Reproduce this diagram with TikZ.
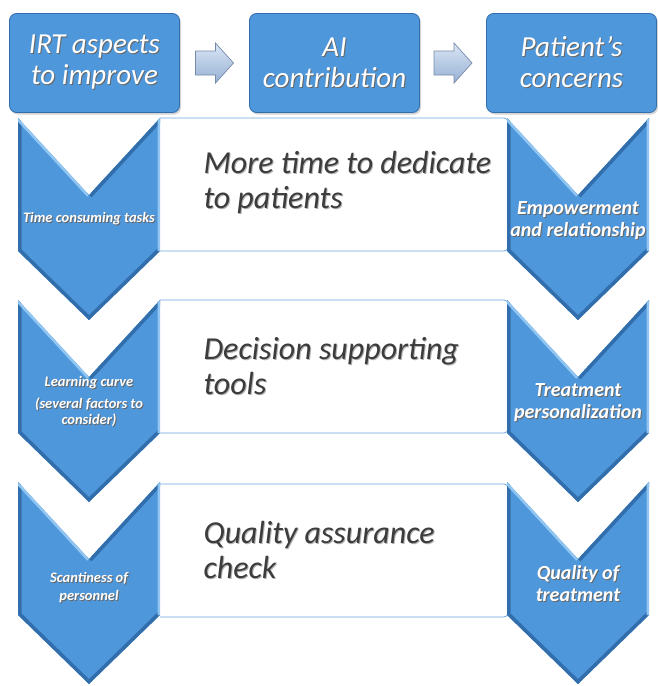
\documentclass[tikz,border=0pt]{standalone}
\usepackage{fontspec}
\setmainfont{Carlito}
\usetikzlibrary{calc,positioning,shadows}

\definecolor{boxblue}{RGB}{79,151,219}
\definecolor{edgeblue}{RGB}{50,110,172}
\definecolor{litblue}{RGB}{146,198,242}
\definecolor{rimblue}{RGB}{110,165,220}
\definecolor{txtgray}{RGB}{60,60,60}
\definecolor{arrtop}{RGB}{218,230,245}
\definecolor{arrbot}{RGB}{150,176,212}
\definecolor{arrline}{RGB}{118,138,168}

% text with a small drop shadow behind it
\newcommand\shd[2][black!60]{\makebox[0pt][l]{\kern1pt\raisebox{-1pt}{\textcolor{#1}{#2}}}#2}

\tikzset{
  headbox/.style={rounded corners=7pt, fill=boxblue, draw=edgeblue, line width=0.8pt,
    minimum width=170pt, minimum height=99pt, align=center, text=white,
    font=\fontsize{29}{31}\selectfont\itshape,
    drop shadow={opacity=0.35, shadow xshift=1.5pt, shadow yshift=-2pt}},
  blockarr/.style={draw=arrline, line width=0.7pt, top color=arrtop, bottom color=arrbot},
  midbox/.style={draw=rimblue, line width=0.8pt, fill=white, rounded corners=4pt},
  midtext/.style={anchor=west, align=left, text=txtgray,
    font=\fontsize{32}{35}\selectfont\itshape},
  lefttext/.style={align=center, text=white,
    font=\fontsize{14.5}{16}\selectfont\bfseries\itshape},
  righttext/.style={align=center, text=white,
    font=\fontsize{20}{21.5}\selectfont\bfseries\itshape},
}

\begin{document}
\begin{tikzpicture}[x=1pt,y=-1pt]
  \useasboundingbox (0,0) rectangle (657,686);

  % headers
  \node[headbox] (irt) at (94.5,63) {\shd{IRT aspects}\\\shd{to improve}};
  \node[headbox] (ai) at (334.5,63) {\shd{AI}\\\shd{contribution}};
  \node[headbox] (concern) at (571.5,63) {\shd{Patient’s}\\\shd{concerns}};

  \draw[blockarr] ($(irt.east)!0.5!(ai.west)$)
    +(-19,-12) -- +(1,-12) -- +(1,-20) -- +(19,0) -- +(1,20) -- +(1,12) -- +(-19,12) -- cycle;
  \draw[blockarr] ($(ai.east)!0.5!(concern.west)$)
    +(-19,-12) -- +(1,-12) -- +(1,-20) -- +(19,0) -- +(1,20) -- +(1,12) -- +(-19,12) -- cycle;

  % white panels between the chevrons
  \foreach \y in {118,300,484}
    \draw[midbox] (160,\y) -- (508,\y) -- (508,\y+133) -- (160,\y+133);

  % chevrons, lit from the top
  \foreach \cx in {89,578}
    \foreach \y in {118,300,482} {
      \begin{scope}
        \clip (\cx-71,\y) -- (\cx,\y+77) -- (\cx+71,\y) -- (\cx+71,\y+133)
          -- (\cx,\y+202) -- (\cx-71,\y+133) -- cycle;
        \fill[boxblue] (\cx-71,\y) rectangle (\cx+71,\y+202);
        \draw[edgeblue, line width=7pt] (\cx-71,\y+133) -- (\cx-71,\y)
          (\cx,\y+77) -- (\cx+71,\y)
          (\cx+71,\y+133) -- (\cx,\y+202) -- (\cx-71,\y+133);
        \draw[litblue, line width=5pt] (\cx-71,\y) -- (\cx,\y+77)
          (\cx+71,\y) -- (\cx+71,\y+133);
      \end{scope}
    }

  % left column
  \node[lefttext] (tasks) at (89,219) {\shd{Time consuming tasks}};
  \node[lefttext] (curve) at (89,402) {\shd{Learning curve}\\[6pt]\shd{(several factors to}\\\shd{consider)}};
  \node[lefttext] (staff) at (89,588) {\shd{Scantiness of}\\[2pt]\shd{personnel}};

  % middle column
  \node[midtext] (time) at (200,183) {\shd[black!30]{More time to dedicate}\\\shd[black!30]{to patients}};
  \node[midtext] (decision) at (200,367) {\shd[black!30]{Decision supporting}\\\shd[black!30]{tools}};
  \node[midtext] (qa) at (200,550) {\shd[black!30]{Quality assurance}\\\shd[black!30]{check}};

  % right column
  \node[righttext] (empower) at (578,221) {\shd{Empowerment}\\\shd{and relationship}};
  \node[righttext] (personal) at (578,403) {\shd{Treatment}\\\shd{personalization}};
  \node[righttext] (quality) at (578,584) {\shd{Quality of}\\\shd{treatment}};
\end{tikzpicture}
\end{document}
